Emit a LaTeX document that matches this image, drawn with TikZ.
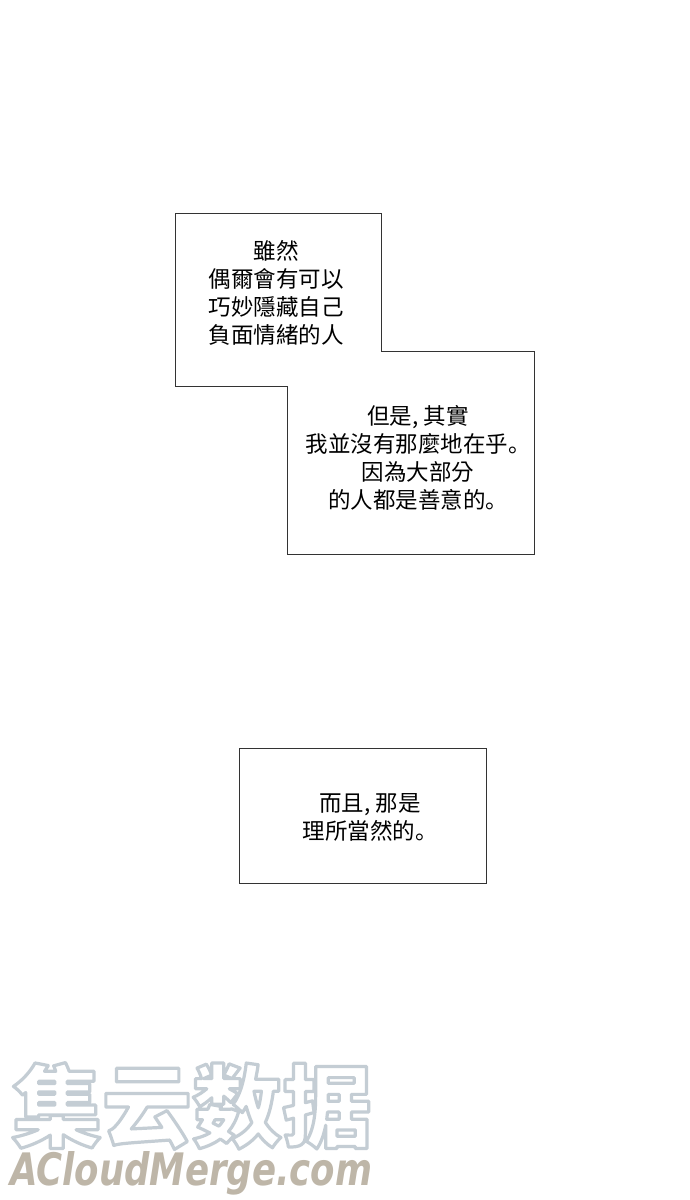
\documentclass[tikz,border=0pt]{standalone}
\usepackage{fontspec}
\newfontfamily\tcfont{Noto Sans CJK TC}
\newfontfamily\scfont{Noto Sans CJK SC}
\newfontfamily\wmlatin{DejaVu Sans}
\newcommand{\jd}{{\scfont 。}}
\newcommand{\outlinetext}[1]{\special{pdf:literal direct 1 Tr 3.2 w 1 j}#1\special{pdf:literal direct 0 Tr 1 w 0 j}}
\definecolor{boxline}{HTML}{333333}
\definecolor{wmblue}{HTML}{C4CDD4}
\definecolor{wmtan}{HTML}{BEB6A8}
\tikzset{
  panel/.style={draw=boxline, line width=0.9pt, fill=white, line join=miter},
  speech/.style={align=center, text=black, inner sep=0pt,
    font=\tcfont\fontsize{22.5}{28}\selectfont}
}
\begin{document}
\begin{tikzpicture}[x=1pt,y=-1pt]
\useasboundingbox[fill=white] (0,0) rectangle (690,1200);
% union of the two overlapping boxes
\draw[panel] (175,213) -- (381,213) -- (381,351) -- (534,351) -- (534,554)
  -- (287,554) -- (287,386) -- (175,386) -- cycle;
\node[speech] (t1) at (276,293) {雖然\\偶爾會有可以\\巧妙隱藏自己\\負面情緒的人};
\node[speech] (t2) at (418,458) {但是, 其實\\我並沒有那麼地在乎\jd\\因為大部分\\的人都是善意的\jd};
% third box
\draw[panel] (239,748) rectangle (486,883);
\node[speech] (t3) at (370,817) {而且, 那是\\理所當然的\jd};
% watermark
\node[inner sep=0pt, text=wmblue] (wm1) at (192,1106)
  {\scfont\bfseries\fontsize{90}{90}\selectfont\color{wmblue}\outlinetext{集云数据}};
\node[inner sep=0pt, anchor=base west] (wm2) at (10,1185)
  {\resizebox{362pt}{34pt}{\wmlatin\bfseries\itshape\color{wmtan}ACloudMerge.com}};
\end{tikzpicture}
\end{document}
